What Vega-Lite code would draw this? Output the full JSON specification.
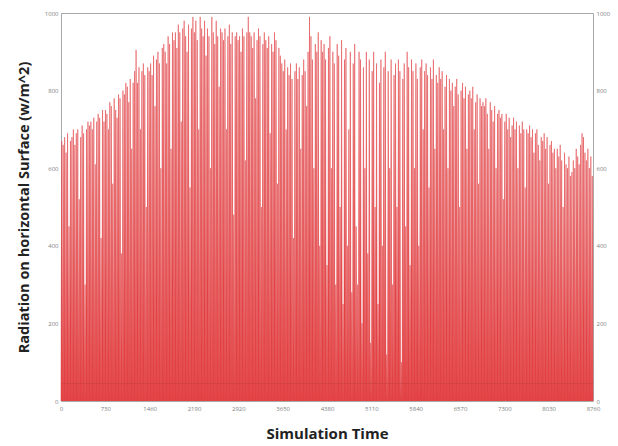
{
"$schema":"https://vega.github.io/schema/vega-lite/v6.json",
"width":532,"height":388,
"autosize":{"type":"none"},
"padding":{"left":61,"top":13,"right":25,"bottom":45},
"background":"white",
"config":{"view":{"stroke":"#a8a8a8","strokeWidth":1},"font":"Open Sans"},
"datasets":{"rad":[
{"t":0,"v":0},{"t":12,"v":670},{"t":24,"v":0},{"t":36,"v":660},{"t":48,"v":0},{"t":60,"v":680},{"t":72,"v":0},{"t":84,"v":640},{"t":96,"v":0},{"t":108,"v":690},{"t":120,"v":0},{"t":132,"v":450},{"t":144,"v":0},{"t":156,"v":670},{"t":168,"v":0},{"t":180,"v":680},{"t":192,"v":0},{"t":204,"v":700},{"t":216,"v":0},{"t":228,"v":660},
{"t":240,"v":0},{"t":252,"v":690},{"t":264,"v":0},{"t":276,"v":700},{"t":288,"v":0},{"t":300,"v":520},{"t":312,"v":0},{"t":324,"v":680},{"t":336,"v":0},{"t":348,"v":710},{"t":360,"v":0},{"t":372,"v":690},{"t":384,"v":0},{"t":396,"v":300},{"t":408,"v":0},{"t":420,"v":700},{"t":432,"v":0},{"t":444,"v":720},{"t":456,"v":0},{"t":468,"v":710},
{"t":480,"v":0},{"t":492,"v":720},{"t":504,"v":0},{"t":516,"v":700},{"t":528,"v":0},{"t":540,"v":730},{"t":552,"v":0},{"t":564,"v":610},{"t":576,"v":0},{"t":588,"v":720},{"t":600,"v":0},{"t":612,"v":740},{"t":624,"v":0},{"t":636,"v":730},{"t":648,"v":0},{"t":660,"v":420},{"t":672,"v":0},{"t":684,"v":750},{"t":696,"v":0},{"t":708,"v":720},
{"t":720,"v":0},{"t":732,"v":750},{"t":744,"v":0},{"t":756,"v":740},{"t":768,"v":0},{"t":780,"v":700},{"t":792,"v":0},{"t":804,"v":770},{"t":816,"v":0},{"t":828,"v":760},{"t":840,"v":0},{"t":852,"v":560},{"t":864,"v":0},{"t":876,"v":780},{"t":888,"v":0},{"t":900,"v":750},{"t":912,"v":0},{"t":924,"v":730},{"t":936,"v":0},{"t":948,"v":790},
{"t":960,"v":0},{"t":972,"v":780},{"t":984,"v":0},{"t":996,"v":380},{"t":1008,"v":0},{"t":1020,"v":800},{"t":1032,"v":0},{"t":1044,"v":790},{"t":1056,"v":0},{"t":1068,"v":820},{"t":1080,"v":0},{"t":1092,"v":810},{"t":1104,"v":0},{"t":1116,"v":770},{"t":1128,"v":0},{"t":1140,"v":830},{"t":1152,"v":0},{"t":1164,"v":650},{"t":1176,"v":0},{"t":1188,"v":820},
{"t":1200,"v":0},{"t":1212,"v":850},{"t":1224,"v":0},{"t":1236,"v":905},{"t":1248,"v":0},{"t":1260,"v":820},{"t":1272,"v":0},{"t":1284,"v":860},{"t":1296,"v":0},{"t":1308,"v":700},{"t":1320,"v":0},{"t":1332,"v":850},{"t":1344,"v":0},{"t":1356,"v":870},{"t":1368,"v":0},{"t":1380,"v":840},{"t":1392,"v":0},{"t":1404,"v":500},{"t":1416,"v":0},{"t":1428,"v":860},
{"t":1440,"v":0},{"t":1452,"v":850},{"t":1464,"v":0},{"t":1476,"v":870},{"t":1488,"v":0},{"t":1500,"v":840},{"t":1512,"v":0},{"t":1524,"v":890},{"t":1536,"v":0},{"t":1548,"v":760},{"t":1560,"v":0},{"t":1572,"v":880},{"t":1584,"v":0},{"t":1596,"v":900},{"t":1608,"v":0},{"t":1620,"v":870},{"t":1632,"v":0},{"t":1644,"v":600},{"t":1656,"v":0},{"t":1668,"v":910},
{"t":1680,"v":0},{"t":1692,"v":920},{"t":1704,"v":0},{"t":1716,"v":900},{"t":1728,"v":0},{"t":1740,"v":870},{"t":1752,"v":0},{"t":1764,"v":940},{"t":1776,"v":0},{"t":1788,"v":920},{"t":1800,"v":0},{"t":1812,"v":650},{"t":1824,"v":0},{"t":1836,"v":950},{"t":1848,"v":0},{"t":1860,"v":930},{"t":1872,"v":0},{"t":1884,"v":950},{"t":1896,"v":0},{"t":1908,"v":910},
{"t":1920,"v":0},{"t":1932,"v":970},{"t":1944,"v":0},{"t":1956,"v":950},{"t":1968,"v":0},{"t":1980,"v":720},{"t":1992,"v":0},{"t":2004,"v":960},{"t":2016,"v":0},{"t":2028,"v":980},{"t":2040,"v":0},{"t":2052,"v":940},{"t":2064,"v":0},{"t":2076,"v":900},{"t":2088,"v":0},{"t":2100,"v":970},{"t":2112,"v":0},{"t":2124,"v":550},{"t":2136,"v":0},{"t":2148,"v":960},
{"t":2160,"v":0},{"t":2172,"v":990},{"t":2184,"v":0},{"t":2196,"v":950},{"t":2208,"v":0},{"t":2220,"v":980},{"t":2232,"v":0},{"t":2244,"v":930},{"t":2256,"v":0},{"t":2268,"v":700},{"t":2280,"v":0},{"t":2292,"v":990},{"t":2304,"v":0},{"t":2316,"v":960},{"t":2328,"v":0},{"t":2340,"v":940},{"t":2352,"v":0},{"t":2364,"v":980},{"t":2376,"v":0},{"t":2388,"v":890},
{"t":2400,"v":0},{"t":2412,"v":960},{"t":2424,"v":0},{"t":2436,"v":940},{"t":2448,"v":0},{"t":2460,"v":600},{"t":2472,"v":0},{"t":2484,"v":990},{"t":2496,"v":0},{"t":2508,"v":950},{"t":2520,"v":0},{"t":2532,"v":920},{"t":2544,"v":0},{"t":2556,"v":980},{"t":2568,"v":0},{"t":2580,"v":940},{"t":2592,"v":0},{"t":2604,"v":810},{"t":2616,"v":0},{"t":2628,"v":960},
{"t":2640,"v":0},{"t":2652,"v":950},{"t":2664,"v":0},{"t":2676,"v":930},{"t":2688,"v":0},{"t":2700,"v":960},{"t":2712,"v":0},{"t":2724,"v":700},{"t":2736,"v":0},{"t":2748,"v":940},{"t":2760,"v":0},{"t":2772,"v":970},{"t":2784,"v":0},{"t":2796,"v":920},{"t":2808,"v":0},{"t":2820,"v":950},{"t":2832,"v":0},{"t":2844,"v":480},{"t":2856,"v":0},{"t":2868,"v":940},
{"t":2880,"v":0},{"t":2892,"v":950},{"t":2904,"v":0},{"t":2916,"v":930},{"t":2928,"v":0},{"t":2940,"v":940},{"t":2952,"v":0},{"t":2964,"v":900},{"t":2976,"v":0},{"t":2988,"v":960},{"t":3000,"v":0},{"t":3012,"v":940},{"t":3024,"v":0},{"t":3036,"v":620},{"t":3048,"v":0},{"t":3060,"v":950},{"t":3072,"v":0},{"t":3084,"v":990},{"t":3096,"v":0},{"t":3108,"v":950},
{"t":3120,"v":0},{"t":3132,"v":940},{"t":3144,"v":0},{"t":3156,"v":910},{"t":3168,"v":0},{"t":3180,"v":950},{"t":3192,"v":0},{"t":3204,"v":780},{"t":3216,"v":0},{"t":3228,"v":930},{"t":3240,"v":0},{"t":3252,"v":960},{"t":3264,"v":0},{"t":3276,"v":940},{"t":3288,"v":0},{"t":3300,"v":500},{"t":3312,"v":0},{"t":3324,"v":920},{"t":3336,"v":0},{"t":3348,"v":950},
{"t":3360,"v":0},{"t":3372,"v":930},{"t":3384,"v":0},{"t":3396,"v":910},{"t":3408,"v":0},{"t":3420,"v":940},{"t":3432,"v":0},{"t":3444,"v":690},{"t":3456,"v":0},{"t":3468,"v":920},{"t":3480,"v":0},{"t":3492,"v":900},{"t":3504,"v":0},{"t":3516,"v":950},{"t":3528,"v":0},{"t":3540,"v":930},{"t":3552,"v":0},{"t":3564,"v":560},{"t":3576,"v":0},{"t":3588,"v":910},
{"t":3600,"v":0},{"t":3612,"v":890},{"t":3624,"v":0},{"t":3636,"v":870},{"t":3648,"v":0},{"t":3660,"v":850},{"t":3672,"v":0},{"t":3684,"v":880},{"t":3696,"v":0},{"t":3708,"v":700},{"t":3720,"v":0},{"t":3732,"v":860},{"t":3744,"v":0},{"t":3756,"v":840},{"t":3768,"v":0},{"t":3780,"v":870},{"t":3792,"v":0},{"t":3804,"v":830},{"t":3816,"v":0},{"t":3828,"v":420},
{"t":3840,"v":0},{"t":3852,"v":850},{"t":3864,"v":0},{"t":3876,"v":870},{"t":3888,"v":0},{"t":3900,"v":830},{"t":3912,"v":0},{"t":3924,"v":860},{"t":3936,"v":0},{"t":3948,"v":650},{"t":3960,"v":0},{"t":3972,"v":840},{"t":3984,"v":0},{"t":3996,"v":880},{"t":4008,"v":0},{"t":4020,"v":850},{"t":4032,"v":0},{"t":4044,"v":760},{"t":4056,"v":0},{"t":4068,"v":900},
{"t":4080,"v":0},{"t":4092,"v":990},{"t":4104,"v":0},{"t":4116,"v":940},{"t":4128,"v":0},{"t":4140,"v":880},{"t":4152,"v":0},{"t":4164,"v":600},{"t":4176,"v":0},{"t":4188,"v":920},{"t":4200,"v":0},{"t":4212,"v":900},{"t":4224,"v":0},{"t":4236,"v":950},{"t":4248,"v":0},{"t":4260,"v":400},{"t":4272,"v":0},{"t":4284,"v":930},{"t":4296,"v":0},{"t":4308,"v":900},
{"t":4320,"v":0},{"t":4332,"v":920},{"t":4344,"v":0},{"t":4356,"v":880},{"t":4368,"v":0},{"t":4380,"v":350},{"t":4392,"v":0},{"t":4404,"v":910},{"t":4416,"v":0},{"t":4428,"v":940},{"t":4440,"v":0},{"t":4452,"v":600},{"t":4464,"v":0},{"t":4476,"v":900},{"t":4488,"v":0},{"t":4500,"v":870},{"t":4512,"v":0},{"t":4524,"v":300},{"t":4536,"v":0},{"t":4548,"v":920},
{"t":4560,"v":0},{"t":4572,"v":890},{"t":4584,"v":0},{"t":4596,"v":500},{"t":4608,"v":0},{"t":4620,"v":930},{"t":4632,"v":0},{"t":4644,"v":250},{"t":4656,"v":0},{"t":4668,"v":880},{"t":4680,"v":0},{"t":4692,"v":910},{"t":4704,"v":0},{"t":4716,"v":400},{"t":4728,"v":0},{"t":4740,"v":700},{"t":4752,"v":0},{"t":4764,"v":900},{"t":4776,"v":0},{"t":4788,"v":280},
{"t":4800,"v":0},{"t":4812,"v":870},{"t":4824,"v":0},{"t":4836,"v":920},{"t":4848,"v":0},{"t":4860,"v":450},{"t":4872,"v":0},{"t":4884,"v":300},{"t":4896,"v":0},{"t":4908,"v":900},{"t":4920,"v":0},{"t":4932,"v":880},{"t":4944,"v":0},{"t":4956,"v":200},{"t":4968,"v":0},{"t":4980,"v":860},{"t":4992,"v":0},{"t":5004,"v":600},{"t":5016,"v":0},{"t":5028,"v":900},
{"t":5040,"v":0},{"t":5052,"v":380},{"t":5064,"v":0},{"t":5076,"v":880},{"t":5088,"v":0},{"t":5100,"v":150},{"t":5112,"v":0},{"t":5124,"v":850},{"t":5136,"v":0},{"t":5148,"v":900},{"t":5160,"v":0},{"t":5172,"v":500},{"t":5184,"v":0},{"t":5196,"v":870},{"t":5208,"v":0},{"t":5220,"v":250},{"t":5232,"v":0},{"t":5244,"v":820},{"t":5256,"v":0},{"t":5268,"v":880},
{"t":5280,"v":0},{"t":5292,"v":400},{"t":5304,"v":0},{"t":5316,"v":860},{"t":5328,"v":0},{"t":5340,"v":900},{"t":5352,"v":0},{"t":5364,"v":120},{"t":5376,"v":0},{"t":5388,"v":850},{"t":5400,"v":0},{"t":5412,"v":600},{"t":5424,"v":0},{"t":5436,"v":880},{"t":5448,"v":0},{"t":5460,"v":300},{"t":5472,"v":0},{"t":5484,"v":840},{"t":5496,"v":0},{"t":5508,"v":870},
{"t":5520,"v":0},{"t":5532,"v":500},{"t":5544,"v":0},{"t":5556,"v":880},{"t":5568,"v":0},{"t":5580,"v":850},{"t":5592,"v":0},{"t":5604,"v":100},{"t":5616,"v":0},{"t":5628,"v":830},{"t":5640,"v":0},{"t":5652,"v":870},{"t":5664,"v":0},{"t":5676,"v":450},{"t":5688,"v":0},{"t":5700,"v":900},{"t":5712,"v":0},{"t":5724,"v":860},{"t":5736,"v":0},{"t":5748,"v":350},
{"t":5760,"v":0},{"t":5772,"v":880},{"t":5784,"v":0},{"t":5796,"v":850},{"t":5808,"v":0},{"t":5820,"v":600},{"t":5832,"v":0},{"t":5844,"v":870},{"t":5856,"v":0},{"t":5868,"v":830},{"t":5880,"v":0},{"t":5892,"v":400},{"t":5904,"v":0},{"t":5916,"v":860},{"t":5928,"v":0},{"t":5940,"v":880},{"t":5952,"v":0},{"t":5964,"v":700},{"t":5976,"v":0},{"t":5988,"v":850},
{"t":6000,"v":0},{"t":6012,"v":870},{"t":6024,"v":0},{"t":6036,"v":840},{"t":6048,"v":0},{"t":6060,"v":550},{"t":6072,"v":0},{"t":6084,"v":860},{"t":6096,"v":0},{"t":6108,"v":830},{"t":6120,"v":0},{"t":6132,"v":880},{"t":6144,"v":0},{"t":6156,"v":650},{"t":6168,"v":0},{"t":6180,"v":840},{"t":6192,"v":0},{"t":6204,"v":820},{"t":6216,"v":0},{"t":6228,"v":860},
{"t":6240,"v":0},{"t":6252,"v":830},{"t":6264,"v":0},{"t":6276,"v":850},{"t":6288,"v":0},{"t":6300,"v":700},{"t":6312,"v":0},{"t":6324,"v":810},{"t":6336,"v":0},{"t":6348,"v":840},{"t":6360,"v":0},{"t":6372,"v":600},{"t":6384,"v":0},{"t":6396,"v":830},{"t":6408,"v":0},{"t":6420,"v":800},{"t":6432,"v":0},{"t":6444,"v":820},{"t":6456,"v":0},{"t":6468,"v":760},
{"t":6480,"v":0},{"t":6492,"v":810},{"t":6504,"v":0},{"t":6516,"v":830},{"t":6528,"v":0},{"t":6540,"v":790},{"t":6552,"v":0},{"t":6564,"v":500},{"t":6576,"v":0},{"t":6588,"v":800},{"t":6600,"v":0},{"t":6612,"v":820},{"t":6624,"v":0},{"t":6636,"v":780},{"t":6648,"v":0},{"t":6660,"v":810},{"t":6672,"v":0},{"t":6684,"v":650},{"t":6696,"v":0},{"t":6708,"v":790},
{"t":6720,"v":0},{"t":6732,"v":800},{"t":6744,"v":0},{"t":6756,"v":780},{"t":6768,"v":0},{"t":6780,"v":810},{"t":6792,"v":0},{"t":6804,"v":700},{"t":6816,"v":0},{"t":6828,"v":770},{"t":6840,"v":0},{"t":6852,"v":790},{"t":6864,"v":0},{"t":6876,"v":560},{"t":6888,"v":0},{"t":6900,"v":780},{"t":6912,"v":0},{"t":6924,"v":760},{"t":6936,"v":0},{"t":6948,"v":770},
{"t":6960,"v":0},{"t":6972,"v":760},{"t":6984,"v":0},{"t":6996,"v":780},{"t":7008,"v":0},{"t":7020,"v":740},{"t":7032,"v":0},{"t":7044,"v":650},{"t":7056,"v":0},{"t":7068,"v":770},{"t":7080,"v":0},{"t":7092,"v":750},{"t":7104,"v":0},{"t":7116,"v":720},{"t":7128,"v":0},{"t":7140,"v":760},{"t":7152,"v":0},{"t":7164,"v":600},{"t":7176,"v":0},{"t":7188,"v":740},
{"t":7200,"v":0},{"t":7212,"v":750},{"t":7224,"v":0},{"t":7236,"v":730},{"t":7248,"v":0},{"t":7260,"v":740},{"t":7272,"v":0},{"t":7284,"v":520},{"t":7296,"v":0},{"t":7308,"v":720},{"t":7320,"v":0},{"t":7332,"v":740},{"t":7344,"v":0},{"t":7356,"v":700},{"t":7368,"v":0},{"t":7380,"v":730},{"t":7392,"v":0},{"t":7404,"v":680},{"t":7416,"v":0},{"t":7428,"v":710},
{"t":7440,"v":0},{"t":7452,"v":730},{"t":7464,"v":0},{"t":7476,"v":700},{"t":7488,"v":0},{"t":7500,"v":720},{"t":7512,"v":0},{"t":7524,"v":600},{"t":7536,"v":0},{"t":7548,"v":710},{"t":7560,"v":0},{"t":7572,"v":690},{"t":7584,"v":0},{"t":7596,"v":720},{"t":7608,"v":0},{"t":7620,"v":700},{"t":7632,"v":0},{"t":7644,"v":550},{"t":7656,"v":0},{"t":7668,"v":700},
{"t":7680,"v":0},{"t":7692,"v":690},{"t":7704,"v":0},{"t":7716,"v":710},{"t":7728,"v":0},{"t":7740,"v":680},{"t":7752,"v":0},{"t":7764,"v":700},{"t":7776,"v":0},{"t":7788,"v":640},{"t":7800,"v":0},{"t":7812,"v":690},{"t":7824,"v":0},{"t":7836,"v":700},{"t":7848,"v":0},{"t":7860,"v":660},{"t":7872,"v":0},{"t":7884,"v":620},{"t":7896,"v":0},{"t":7908,"v":680},
{"t":7920,"v":0},{"t":7932,"v":670},{"t":7944,"v":0},{"t":7956,"v":690},{"t":7968,"v":0},{"t":7980,"v":650},{"t":7992,"v":0},{"t":8004,"v":680},{"t":8016,"v":0},{"t":8028,"v":560},{"t":8040,"v":0},{"t":8052,"v":660},{"t":8064,"v":0},{"t":8076,"v":670},{"t":8088,"v":0},{"t":8100,"v":640},{"t":8112,"v":0},{"t":8124,"v":650},{"t":8136,"v":0},{"t":8148,"v":600},
{"t":8160,"v":0},{"t":8172,"v":650},{"t":8184,"v":0},{"t":8196,"v":630},{"t":8208,"v":0},{"t":8220,"v":660},{"t":8232,"v":0},{"t":8244,"v":620},{"t":8256,"v":0},{"t":8268,"v":500},{"t":8280,"v":0},{"t":8292,"v":640},{"t":8304,"v":0},{"t":8316,"v":610},{"t":8328,"v":0},{"t":8340,"v":600},{"t":8352,"v":0},{"t":8364,"v":630},{"t":8376,"v":0},{"t":8388,"v":580},
{"t":8400,"v":0},{"t":8412,"v":590},{"t":8424,"v":0},{"t":8436,"v":620},{"t":8448,"v":0},{"t":8460,"v":600},{"t":8472,"v":0},{"t":8484,"v":650},{"t":8496,"v":0},{"t":8508,"v":630},{"t":8520,"v":0},{"t":8532,"v":610},{"t":8544,"v":0},{"t":8556,"v":660},{"t":8568,"v":0},{"t":8580,"v":690},{"t":8592,"v":0},{"t":8604,"v":680},{"t":8616,"v":0},{"t":8628,"v":640},
{"t":8640,"v":0},{"t":8652,"v":620},{"t":8664,"v":0},{"t":8676,"v":650},{"t":8688,"v":0},{"t":8700,"v":600},{"t":8712,"v":0},{"t":8724,"v":630},{"t":8736,"v":0},{"t":8748,"v":580},{"t":8760,"v":0}
],"lvl":[{"level":45}]},
"layer":[
{"data":{"name":"rad"},
"mark":{"type":"area","color":"#e5403f","interpolate":"linear"},
"encoding":{
"x":{"field":"t","type":"quantitative","scale":{"domain":[0,8760],"nice":false,"zero":false},
"axis":{"values":[0,730,1460,2190,2920,3650,4380,5110,5840,6570,7300,8030,8760],"format":"d","title":"Simulation Time","grid":false,"domain":false,"ticks":false,"labelFontSize":6,"labelColor":"#808080","labelPadding":4,"labelFlush":false,"titleFontSize":15,"titleFontWeight":"bold","titleColor":"#222222","titlePadding":15}},
"y":{"field":"v","type":"quantitative","scale":{"domain":[0,1000],"nice":false},
"axis":{"orient":"left","values":[0,200,400,600,800,1000],"format":"d","title":"Radiation on horizontal Surface (w/m^2)","grid":false,"domain":false,"ticks":false,"labelFontSize":6,"labelColor":"#808080","labelPadding":3,"titleFontSize":14.5,"titleFontWeight":"bold","titleColor":"#222222","titlePadding":13}}
}},
{"data":{"name":"rad"},
"mark":{"type":"line","color":"#e2474c","strokeWidth":0.55,"interpolate":"linear"},
"encoding":{
"x":{"field":"t","type":"quantitative"},
"y":{"field":"v","type":"quantitative","axis":null}
}},
{"data":{"name":"lvl"},
"mark":{"type":"rule","color":"#c04040","strokeWidth":0.7,"opacity":0.7},
"encoding":{
"y":{"field":"level","type":"quantitative",
"axis":{"orient":"right","values":[0,200,400,600,800,1000],"format":"d","title":null,"grid":false,"domain":false,"ticks":false,"labelFontSize":6,"labelColor":"#808080","labelPadding":3}}
}}
],
"resolve":{"axis":{"y":"independent"}}
}
